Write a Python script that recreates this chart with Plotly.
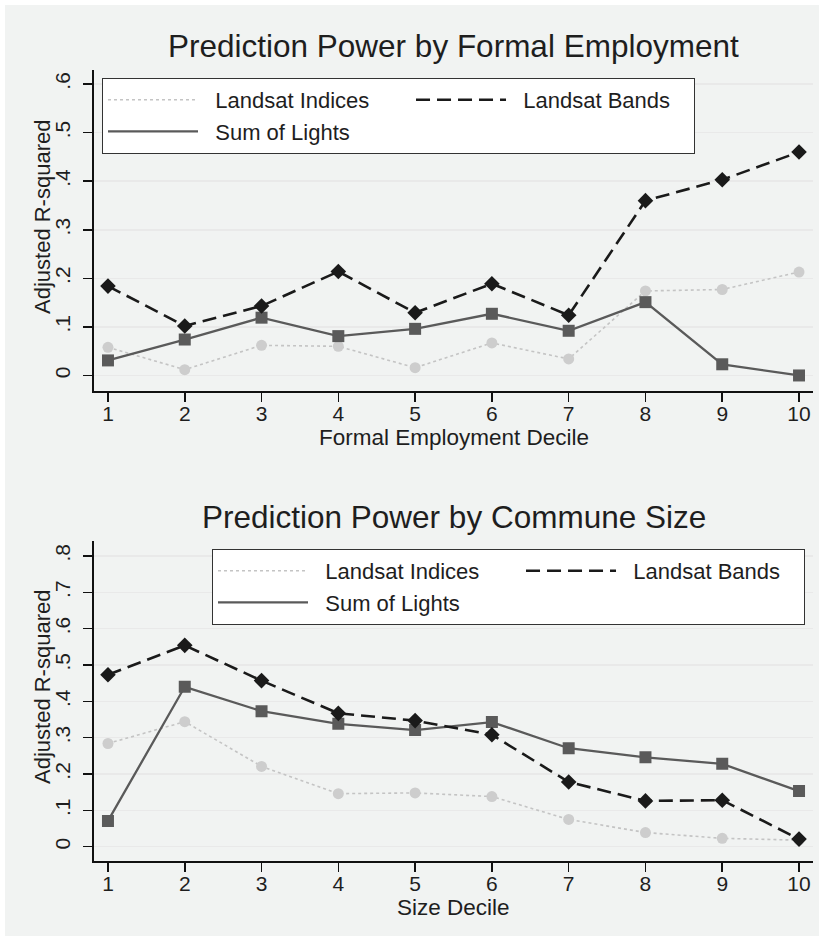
import plotly.graph_objects as go

# ---------------- data ----------------
deciles = [1, 2, 3, 4, 5, 6, 7, 8, 9, 10]

top_indices = [0.058, 0.012, 0.062, 0.060, 0.016, 0.067, 0.034, 0.174, 0.177, 0.213]
top_bands = [0.184, 0.102, 0.143, 0.214, 0.129, 0.189, 0.124, 0.360, 0.403, 0.460]
top_lights = [0.031, 0.074, 0.119, 0.081, 0.096, 0.127, 0.092, 0.151, 0.023, 0.000]

bot_indices = [0.284, 0.344, 0.221, 0.146, 0.148, 0.138, 0.075, 0.039, 0.023, 0.018]
bot_bands = [0.473, 0.554, 0.457, 0.367, 0.347, 0.308, 0.178, 0.126, 0.128, 0.021]
bot_lights = [0.071, 0.440, 0.373, 0.338, 0.321, 0.343, 0.271, 0.246, 0.228, 0.153]

top_yticks = [0, 0.1, 0.2, 0.3, 0.4, 0.5, 0.6]
top_ylabels = ["0", ".1", ".2", ".3", ".4", ".5", ".6"]
bot_yticks = [0, 0.1, 0.2, 0.3, 0.4, 0.5, 0.6, 0.7, 0.8]
bot_ylabels = ["0", ".1", ".2", ".3", ".4", ".5", ".6", ".7", ".8"]

series_names = ["Landsat Indices", "Landsat Bands", "Sum of Lights"]
titles = ["Prediction Power by Formal Employment", "Prediction Power by Commune Size"]
xtitles = ["Formal Employment Decile", "Size Decile"]
ytitle = "Adjusted R-squared"

# ---------------- styling ----------------
W, H = 824, 942
FONT = "Liberation Sans, Arial, Helvetica, sans-serif"
TXT = "#1e1e1e"
BG = "#f1f3f2"
C_IND = "#cdcdcd"
C_BAND = "#1a1a1a"
C_LIGHT = "#5a5a5a"
NB = "\u00a0"

# legend label padding (spacing only)
leg_labels = [
    NB * 2 + series_names[0] + NB * 6,
    NB * 2 + series_names[1] + NB * 3,
    NB * 2 + series_names[2],
]


def px_x(p):
    return p / W


def px_y(p):
    return 1 - p / H


fig = go.Figure()

panels = [
    dict(xa="x", ya="y", leg="legend", ind=top_indices, band=top_bands, light=top_lights),
    dict(xa="x2", ya="y2", leg="legend2", ind=bot_indices, band=bot_bands, light=bot_lights),
]

for p in panels:
    common = dict(x=deciles, xaxis=p["xa"], yaxis=p["ya"], legend=p["leg"])
    # lines (legend entries)
    fig.add_trace(go.Scatter(y=p["ind"], mode="lines", name=leg_labels[0], legendrank=1,
                             line=dict(color="#c4c4c4", width=1.6, dash="dot"), **common))
    fig.add_trace(go.Scatter(y=p["light"], mode="lines", name=leg_labels[2], legendrank=3,
                             line=dict(color=C_LIGHT, width=2.3), **common))
    fig.add_trace(go.Scatter(y=p["band"], mode="lines", name=leg_labels[1], legendrank=2,
                             line=dict(color=C_BAND, width=2.6, dash="14px,7px"), **common))
    # markers
    fig.add_trace(go.Scatter(y=p["ind"], mode="markers", showlegend=False,
                             marker=dict(symbol="circle", size=11, color=C_IND), **common))
    fig.add_trace(go.Scatter(y=p["light"], mode="markers", showlegend=False,
                             marker=dict(symbol="square", size=12, color=C_LIGHT), **common))
    fig.add_trace(go.Scatter(y=p["band"], mode="markers", showlegend=False,
                             marker=dict(symbol="diamond", size=12, color=C_BAND), **common))

xdom = [px_x(94), px_x(813)]
top_dom = [px_y(391), px_y(70)]
bot_dom = [px_y(860.7), px_y(540.7)]

xaxis_common = dict(
    domain=xdom, range=[0.818, 10.182], tickmode="array", tickvals=deciles,
    ticktext=[str(d) for d in deciles], showgrid=False, zeroline=False,
    showline=True, linecolor="#111", linewidth=2, ticks="outside", ticklen=9,
    tickwidth=1.5, tickcolor="#111", tickfont=dict(size=21, color=TXT, family=FONT),
    ticklabelstandoff=-6, fixedrange=True,
)
yaxis_common = dict(
    zeroline=False, showline=True, linecolor="#111", linewidth=2, ticks="outside",
    ticklen=9, tickwidth=1.5, tickcolor="#111", tickangle=-90,
    tickfont=dict(size=21, color=TXT, family=FONT), showgrid=True,
    gridcolor="#e9e9e9", gridwidth=1.5, tickmode="array", fixedrange=True,
    ticklabelstandoff=5,
)

legend_common = dict(
    orientation="h", bgcolor="white", bordercolor="#333", borderwidth=1,
    font=dict(size=22, color=TXT, family=FONT), itemwidth=90, traceorder="normal",
)

fig.update_layout(
    width=W, height=H,
    margin=dict(l=0, r=0, t=0, b=0),
    paper_bgcolor="white",
    plot_bgcolor="white",
    font=dict(family=FONT, color=TXT),
    xaxis=dict(anchor="y", **xaxis_common),
    yaxis=dict(anchor="x", domain=top_dom, range=[-0.032, 0.629], tickvals=top_yticks,
               ticktext=top_ylabels, **yaxis_common),
    xaxis2=dict(anchor="y2", **xaxis_common),
    yaxis2=dict(anchor="x2", domain=bot_dom, range=[-0.0385, 0.842], tickvals=bot_yticks,
                ticktext=bot_ylabels, **yaxis_common),
    legend=dict(x=px_x(102), y=px_y(78), xanchor="left", yanchor="top", **legend_common),
    legend2=dict(x=px_x(805), y=px_y(549), xanchor="right", yanchor="top", **legend_common),
    showlegend=True,
)

# background panel
fig.add_shape(type="rect", xref="paper", yref="paper", x0=px_x(5), x1=px_x(819),
              y0=px_y(936), y1=px_y(5), fillcolor=BG, line=dict(width=0), layer="below")

# titles
for t, yc in zip(titles, [46, 517]):
    fig.add_annotation(text=t, xref="paper", yref="paper", x=px_x(453.5), y=px_y(yc),
                       xanchor="center", yanchor="middle", showarrow=False,
                       font=dict(size=31.5, color=TXT, family=FONT))
# x titles
for t, yc in zip(xtitles, [437, 907]):
    fig.add_annotation(text=t, xref="paper", yref="paper", x=px_x(453.5), y=px_y(yc),
                       xanchor="center", yanchor="middle", showarrow=False,
                       font=dict(size=22.5, color=TXT, family=FONT))
# y titles
for yc in [217, 687]:
    fig.add_annotation(text=ytitle, xref="paper", yref="paper", x=px_x(42), y=px_y(yc),
                       xanchor="center", yanchor="middle", showarrow=False, textangle=-90,
                       font=dict(size=22, color=TXT, family=FONT))

fig.write_html(
    "out.html",
    config={"displayModeBar": False, "staticPlot": True},
    post_script="document.body.style.margin='0px';document.body.style.overflow='hidden';",
)
